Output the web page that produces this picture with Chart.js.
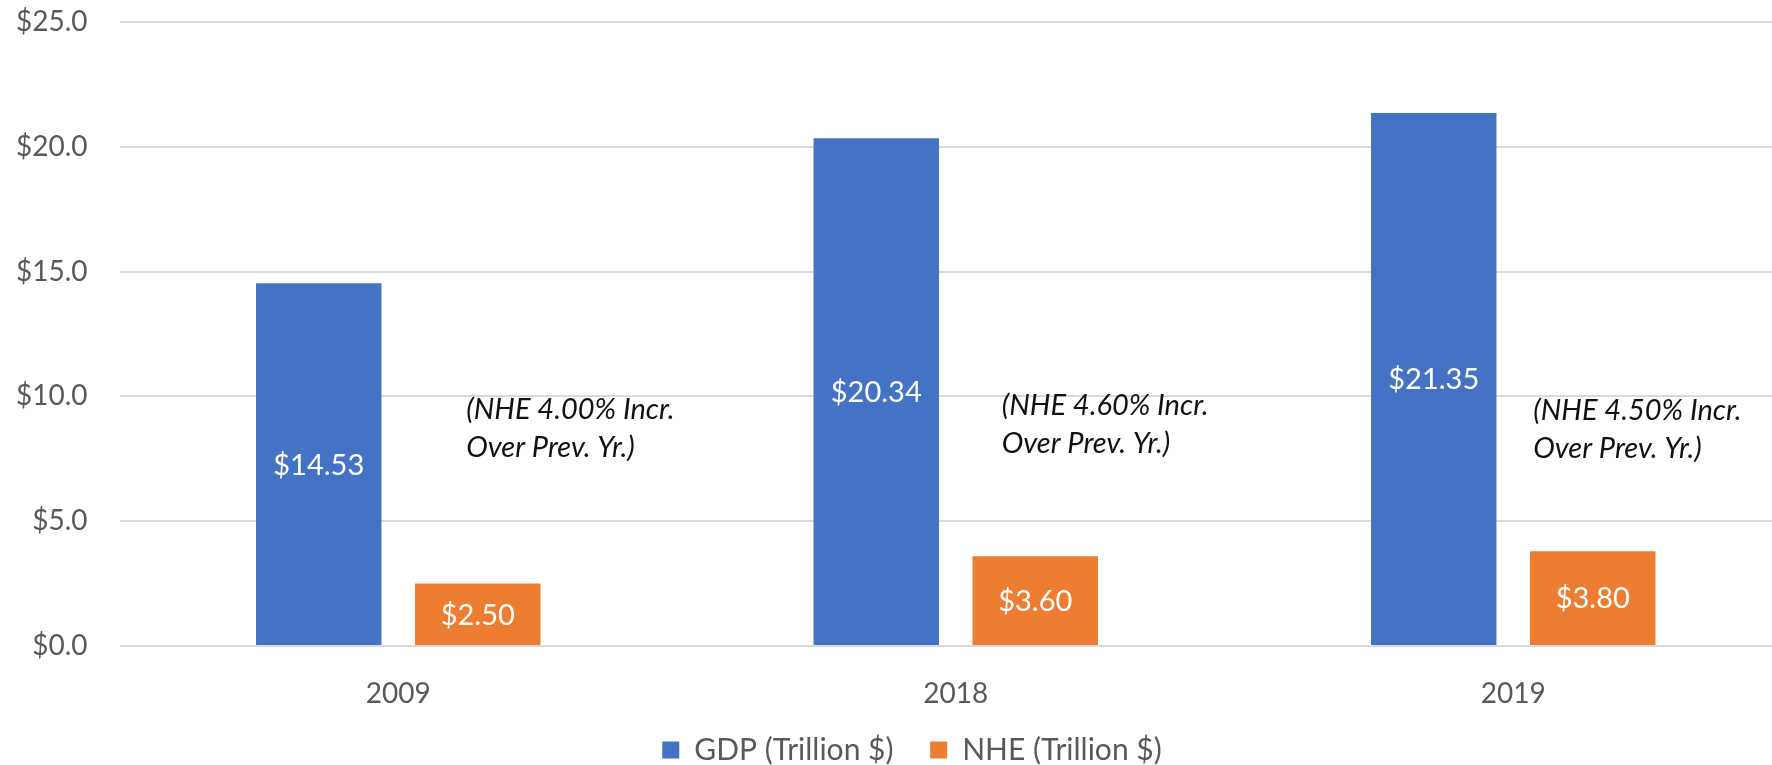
<!DOCTYPE html>
<html>
<head>
<meta charset="utf-8">
<script src="https://cdn.jsdelivr.net/npm/chart.js@4.4.1/dist/chart.umd.min.js"></script>
<style>
  html, body { margin: 0; padding: 0; background: #fff; overflow: hidden; }
  #c { position: absolute; left: 0; top: 0; display: block; }
</style>
</head>
<body>
<canvas id="c" width="1792" height="765" style="width:1792px;height:765px"></canvas>
<script>
// ---- data ----
const categories = ['2009', '2018', '2019'];
const gdpValues = [14.53, 20.34, 21.35];
const nheValues = [2.50, 3.60, 3.80];
const seriesNames = ['GDP (Trillion $)', 'NHE (Trillion $)'];
const nheIncrease = ['4.00%', '4.60%', '4.50%'];
const yTicks = [0, 5, 10, 15, 20, 25];

// annotation placement (pixel offset from category centre, value on y axis)
const noteOffsetPx = [68, 46, 20];
const noteAtValue = [9.48, 9.62, 9.44];

const FONT = 'Lato, "Open Sans", "Liberation Sans", sans-serif';
const GREY = '#595959';

const barLabels = {
  id: 'barLabels',
  afterDatasetsDraw(chart) {
    const ctx = chart.ctx;
    ctx.save();
    ctx.font = '29px ' + FONT;
    ctx.fillStyle = '#ffffff';
    ctx.textAlign = 'center';
    ctx.textBaseline = 'middle';
    chart.data.datasets.forEach((ds, di) => {
      chart.getDatasetMeta(di).data.forEach((bar, i) => {
        const v = ds.data[i];
        ctx.fillText('$' + v.toFixed(2), bar.x, (bar.y + bar.base) / 2 + 1);
      });
    });
    ctx.restore();
  }
};

const notes = {
  id: 'notes',
  afterDatasetsDraw(chart) {
    const ctx = chart.ctx;
    const xs = chart.scales.x, ys = chart.scales.y;
    ctx.save();
    ctx.font = 'italic 29px ' + FONT;
    ctx.fillStyle = '#111111';
    ctx.textAlign = 'left';
    ctx.textBaseline = 'middle';
    categories.forEach((c, i) => {
      const x = xs.getPixelForValue(i) + noteOffsetPx[i];
      const y = ys.getPixelForValue(noteAtValue[i]);
      ctx.fillText('(NHE ' + nheIncrease[i] + ' Incr.', x, y);
      ctx.fillText('Over Prev. Yr.)', x, y + 38);
    });
    ctx.restore();
  }
};

const legendShift = {
  id: 'legendShift',
  afterLayout(chart) {
    if (chart.legend) chart.legend.left = 32;
  }
};

new Chart(document.getElementById('c'), {
  type: 'bar',
  data: {
    labels: categories,
    datasets: [
      { label: seriesNames[0], data: gdpValues, backgroundColor: '#4472C4', borderWidth: 0,
        categoryPercentage: 0.5704, barPercentage: 0.789 },
      { label: seriesNames[1], data: nheValues, backgroundColor: '#ED7D31', borderWidth: 0,
        categoryPercentage: 0.5704, barPercentage: 0.789 }
    ]
  },
  options: {
    responsive: false,
    animation: false,
    devicePixelRatio: 1,
    layout: { padding: { left: 0, right: 0, top: 22, bottom: -10 } },
    plugins: {
      legend: {
        position: 'bottom',
        labels: {
          boxWidth: 17, boxHeight: 17, padding: 29,
          color: GREY, font: { family: FONT, size: 30 },
          generateLabels(chart) {
            const items = Chart.defaults.plugins.legend.labels.generateLabels(chart);
            items[0].text = items[0].text + ' ';
            return items;
          }
        }
      },
      tooltip: { enabled: false }
    },
    scales: {
      x: {
        grid: { display: false },
        border: { display: false },
        ticks: { color: GREY, font: { family: FONT, size: 28 }, padding: 23 },
        afterFit(s) { s.height = 60; }
      },
      y: {
        min: 0, max: 25,
        afterBuildTicks(s) { s.ticks = yTicks.map(v => ({ value: v })); },
        grid: { color: '#D9D9D9', lineWidth: 2, drawTicks: false },
        border: { display: false },
        ticks: {
          color: GREY, font: { family: FONT, size: 28 }, padding: 32,
          callback: v => '$' + Number(v).toFixed(1)
        },
        afterFit(s) { s.width = 119.5; s.paddingTop = 17; s.paddingBottom = 17; }
      }
    }
  },
  plugins: [barLabels, notes, legendShift]
});
</script>
</body>
</html>
